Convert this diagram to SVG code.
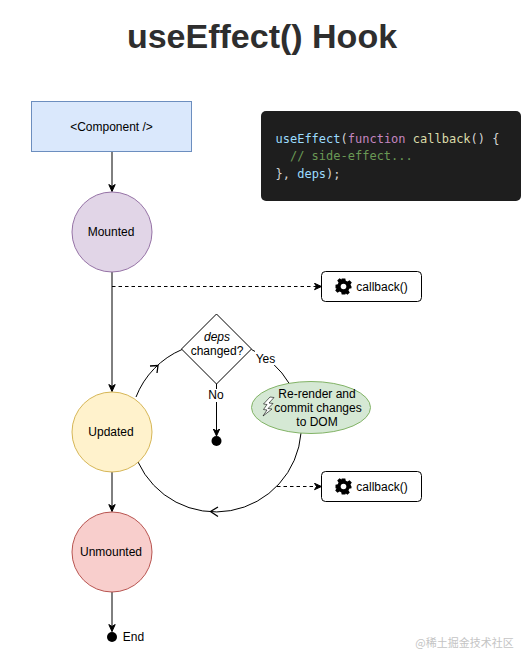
<svg xmlns="http://www.w3.org/2000/svg" width="531" height="667" viewBox="0 0 531 667">
<style>
text{font-family:"Liberation Sans",Arial,sans-serif;font-size:12px;fill:#000;text-anchor:middle}
.edge{fill:none;stroke:#000;stroke-width:1}
.dash{stroke-dasharray:3.500 3}
.head{fill:none;stroke:#000;stroke-width:1.300}
.box{fill:#fff;stroke:#000;stroke-width:1}
.code{font-family:"DejaVu Sans Mono","Liberation Mono",monospace;font-size:12px;text-anchor:start;fill:#d4d4d4}
.node{stroke-width:1}
</style>
<defs>
<marker id="arrow" markerWidth="9" markerHeight="8" refX="7.500" refY="4" orient="auto" markerUnits="userSpaceOnUse"><path d="M0.500 0.800L7.500 4L0.500 7.200L2.500 4Z" fill="#000" stroke="#000" stroke-width="1"/></marker>
<g id="gear"><path d="M-1.800-8H1.800L2.300-5.700L4-5L6-6.300L8.300-4L7-2L7.700-.3L8-.3V1.800L5.700 2.300L5 4L6.300 6L4 8.300L2.300 7L1.800 8H-1.800L-2.300 5.700L-4 5L-6 6.300L-8.300 4L-7 2L-8 1.800V-1.800L-5.700-2.300L-5-4L-6.300-6L-4-8.300L-2-7Z" fill="#000"/><circle r="2.800" fill="#fff"/></g>
</defs>
<rect width="531" height="667" fill="#fff"/>
<text id="title" x="262" y="48" style="font-size:34px;font-weight:bold;fill:#2e2e2e">useEffect() Hook</text>

<g id="connectors">
<path class="edge" marker-end="url(#arrow)" d="M112 151V191.500"/>
<path class="edge" marker-end="url(#arrow)" d="M112 272V391.500"/>
<path class="edge" marker-end="url(#arrow)" d="M112 472V511.500"/>
<path class="edge" marker-end="url(#arrow)" d="M112 592V631.500"/>
<path class="edge dash" marker-end="url(#arrow)" d="M112 286.500H321.500"/>
<path class="edge dash" marker-end="url(#arrow)" d="M277 486.500H321.500"/>
<path class="edge" d="M136 397A85.500 85.500 0 0 1 182 349.500"/>
<path class="edge" d="M251.500 349.500A85.500 85.500 0 0 1 301 433"/>
<path class="edge" d="M301 433A85.500 85.500 0 0 1 138 462"/>
<path class="head" d="M150 366L158 365.500L157 373"/>
<path class="head" d="M218 507L210.500 511.500L218 516.500"/>
<path class="edge" marker-end="url(#arrow)" d="M216.500 384V436"/>
<rect x="255" y="351" width="21" height="14" fill="#fff"/>
<text x="265.500" y="363">Yes</text>
<rect x="207" y="389" width="19" height="13" fill="#fff"/>
<text x="216" y="399">No</text>
</g>

<g id="component"><rect x="31.500" y="101.500" width="160" height="50" fill="#dae8fc" stroke="#6c8ebf"/><text x="111.500" y="131">&lt;Component /&gt;</text></g>
<g id="mounted"><circle class="node" cx="112" cy="232" r="40" fill="#e1d5e7" stroke="#9673a6"/><text x="111" y="236">Mounted</text></g>
<g id="updated"><circle class="node" cx="112" cy="432" r="40" fill="#fff2cc" stroke="#d6b656"/><text x="111" y="436">Updated</text></g>
<g id="unmounted"><circle class="node" cx="112" cy="552" r="40" fill="#f8cecc" stroke="#b85450"/><text x="111" y="556">Unmounted</text></g>
<g id="end"><circle cx="112" cy="637" r="5" fill="#000"/><text x="133.500" y="641">End</text></g>

<g id="code"><rect x="261" y="111" width="260" height="90" rx="5" fill="#1e1e1e"/>
<text class="code" x="275.500" y="143"><tspan style="fill:#9cdcfe">useEffect</tspan>(<tspan style="fill:#c586c0">function</tspan> <tspan style="fill:#dcdcaa">callback</tspan>() {</text>
<text class="code" x="275.500" y="160" xml:space="preserve" style="fill:#6a9955">  // side-effect...</text>
<text class="code" x="275.500" y="178">}, <tspan style="fill:#9cdcfe">deps</tspan>);</text></g>

<g id="callback1"><rect class="box" x="321.500" y="271.500" width="100" height="30" rx="4"/><use href="#gear" x="343.500" y="286.500"/><text x="385" y="291" dx="-3">callback()</text></g>
<g id="callback2"><rect class="box" x="321.500" y="471.500" width="100" height="30" rx="4"/><use href="#gear" x="343.500" y="486.500"/><text x="385" y="491" dx="-3">callback()</text></g>

<g id="deps"><path d="M216.500 314L251.500 349L216.500 384L181.500 349Z" fill="#fff" stroke="#000"/><text x="217" y="341" style="font-style:italic">deps</text><text x="217" y="355">changed?</text></g>
<circle id="stop" cx="216.500" cy="441" r="5" fill="#000"/>

<g id="rerender"><ellipse cx="311" cy="407.500" rx="59.500" ry="26" fill="#d5e8d4" stroke="#82b366"/>
<text x="317" y="398">Re-render and</text><text x="318" y="412">commit changes</text><text x="317" y="426">to DOM</text>
<path d="M270 397L274 397.500L269 403L273 403.500L268 408.500L272 409L263 416L267 410L263.500 409.500L267 404.500L263.500 404Z" fill="#fff" stroke="#000" stroke-width=".6"/></g>

<text id="watermark" x="464.500" y="647" style="font-family:'Noto Sans CJK SC','Liberation Sans',sans-serif;font-size:11px;fill:#c4c4c4">@稀土掘金技术社区</text>
</svg>
